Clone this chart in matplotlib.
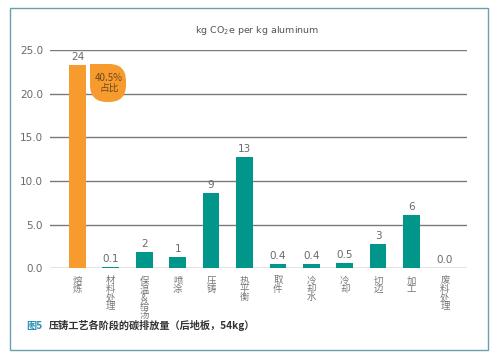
import matplotlib.pyplot as plt
from matplotlib.patches import Rectangle, PathPatch
from matplotlib.path import Path

plt.rcParams['font.family'] = ['Noto Sans CJK SC', 'DejaVu Sans']

stages = ['熔炼', '材料处理', '保温&给汤', '喷涂', '压铸', '热平衡', '取件',
          '冷却水', '冷却', '切边', '加工', '废料处理']
values = [23.3, 0.15, 1.85, 1.25, 8.6, 12.75, 0.42, 0.42, 0.6, 2.75, 6.1, 0.0]
labels = ['24', '0.1', '2', '1', '9', '13', '0.4', '0.4', '0.5', '3', '6', '0.0']
share_text = '40.5%\n占比'

orange = '#F89B2E'
teal = '#00968A'
grey = '#6a6a6a'

fig = plt.figure(figsize=(5, 3.55), dpi=100)
ax = fig.add_axes([0.1, 0.245, 0.834, 0.613])

colors = [orange] + [teal] * (len(values) - 1)
x = list(range(len(values)))
ax.bar(x, values, width=0.5, color=colors, zorder=3)

for xi, v, lab in zip(x, values, labels):
    ax.text(xi, v + 0.35, lab, ha='center', va='bottom', fontsize=7.5,
            color=grey, family='DejaVu Sans')

ax.set_xlim(-0.82, 11.66)
ax.set_ylim(0, 25)
ax.set_yticks([0, 5, 10, 15, 20, 25])
ax.set_yticklabels(['0.0', '5.0', '10.0', '15.0', '20.0', '25.0'],
                   fontsize=7.5, color=grey, family='DejaVu Sans')
ax.yaxis.grid(True, color='#7a7a7a', linewidth=1, zorder=0)
ax.tick_params(axis='y', length=0, pad=5)
ax.tick_params(axis='x', length=0, pad=6)
ax.set_xticks(x)
ax.set_xticklabels(['\n'.join(s) for s in stages],
                   fontsize=6.8, color='#777777', linespacing=0.9, va='top')
for s in ax.spines.values():
    s.set_visible(False)

# bubble next to the orange bar (pixel coords from top-left)
px = lambda v: v / 500
py = lambda v: 1 - v / 355
x0, x1 = 90, 126
ytop, ybot = 64, 102
r = 17
verts = [(px(x0), py(ytop)), (px(x1 - r), py(ytop)),
         (px(x1), py(ytop)), (px(x1), py(ytop + r)),
         (px(x1), py(ybot - r)),
         (px(x1), py(ybot)), (px(x1 - r), py(ybot)),
         (px(x0 + r), py(ybot)),
         (px(x0), py(ybot)), (px(x0), py(ybot - r)),
         (px(x0), py(ytop))]
codes = [Path.MOVETO, Path.LINETO, Path.CURVE3, Path.CURVE3, Path.LINETO,
         Path.CURVE3, Path.CURVE3, Path.LINETO, Path.CURVE3, Path.CURVE3,
         Path.CLOSEPOLY]
fig.patches.append(PathPatch(Path(verts, codes), facecolor=orange,
                             edgecolor='none', transform=fig.transFigure,
                             zorder=5))
fig.text(px((x0 + x1) / 2 + 1), py((ytop + ybot) / 2), share_text,
         ha='center', va='center', fontsize=7, color='#6b4a1e',
         linespacing=1.05, zorder=6)

fig.text(0.514, 0.915, 'kg CO$_2$e per kg aluminum', ha='center', va='center',
         fontsize=6.8, color='#555555', family='DejaVu Sans')

fig.text(0.052, 0.083, '图5', ha='left', va='center', fontsize=7.3,
         color='#2a8fb5', fontweight='bold')
fig.text(0.097, 0.083, '压铸工艺各阶段的碳排放量（后地板，54kg）', ha='left',
         va='center', fontsize=7.3, color='#333333', fontweight='bold')

fig.patches.append(Rectangle((0.02, 0.014), 0.956, 0.963, fill=False,
                             edgecolor='#6a9fae', linewidth=1,
                             transform=fig.transFigure))

fig.savefig('out.png', dpi=100)
